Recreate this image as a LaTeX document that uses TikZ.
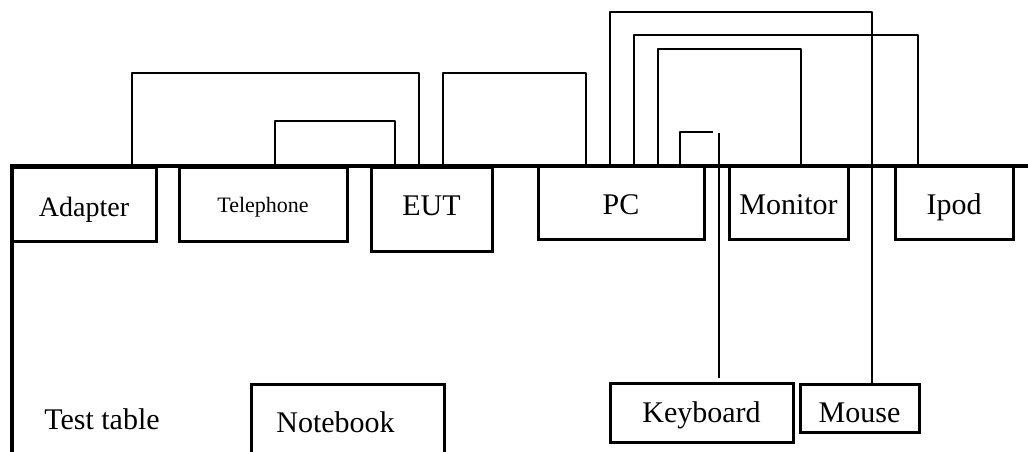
\documentclass[tikz,border=0pt]{standalone}
\usepackage{fontspec}
\setmainfont{Liberation Serif}
\usepackage{tikz}

\begin{document}
\begin{tikzpicture}[x=1pt,y=1pt,
    device/.style={draw, line width=3pt, inner sep=0pt, text height=23pt, text depth=0pt, font=\fontsize{30}{30}\selectfont},
    cable/.style={line width=2.2pt, line join=round}]
    \clip (0,0) rectangle (1028,452);
    \fill[white] (0,0) rectangle (1028,452);
    % table
    \draw[line width=4.5pt] (12,0) -- (12,286) -- (1028,286);
    \node (tt) at (102,33) {\fontsize{30}{30}\selectfont Test table};
    % devices on the table
    \node[device, minimum width=144, minimum height=74, text height=24pt, font=\fontsize{28}{28}\selectfont] (Adapter) at (84,247) {Adapter};
    \node[device, minimum width=168, minimum height=74, text height=16pt, font=\fontsize{22}{22}\selectfont] (Tel) at (263,247) {Telephone};
    \node[device, minimum width=121, minimum height=84, text height=12pt] (EUT) at (431.5,242) {EUT};
    \node[device, minimum width=166, minimum height=73] (PC) at (621,248.5) {PC};
    \node[device, minimum width=119, minimum height=73] (Mon) at (788.5,248.5) {Monitor};
    \node[device, minimum width=118, minimum height=73] (Ipod) at (954,248.5) {Ipod};
    % devices below
    \node[device, minimum width=183, minimum height=59, text height=19pt] (KB) at (701.5,38.5) {Keyboard};
    \node[device, minimum width=119, minimum height=48, text height=28pt] (Mouse) at (859.5,43) {Mouse};
    \node[device, minimum width=193, minimum height=87] (NB) at (347.5,23.5) {\raisebox{7pt}{Notebook}\kern24pt};
    % cables
    \coordinate (kbbend) at (713,320);
    \coordinate (kbtop) at (719,319);
    \draw[cable] ([xshift=48pt]Adapter.north) |- (200,379) -| ([xshift=-12.5pt]EUT.north);
    \draw[cable] ([xshift=12pt]Tel.north) |- (300,331) -| ([xshift=-36.5pt]EUT.north);
    \draw[cable] ([xshift=11.5pt]EUT.north) |- (500,379) -| ([xshift=-35pt]PC.north);
    \draw[cable] ([xshift=-11pt]PC.north) |- (700,440) -| ([xshift=12.5pt]Mouse.north);
    \draw[cable] ([xshift=13pt]PC.north) |- (700,417) -| ([xshift=-36pt]Ipod.north);
    \draw[cable] ([xshift=37pt]PC.north) |- (700,403) -| ([xshift=12.5pt]Mon.north);
    \draw[cable] ([xshift=59pt]PC.north) |- (kbbend);
    \draw[cable] (kbtop) -- ([xshift=17.5pt,yshift=4pt]KB.north);
\end{tikzpicture}
\end{document}
